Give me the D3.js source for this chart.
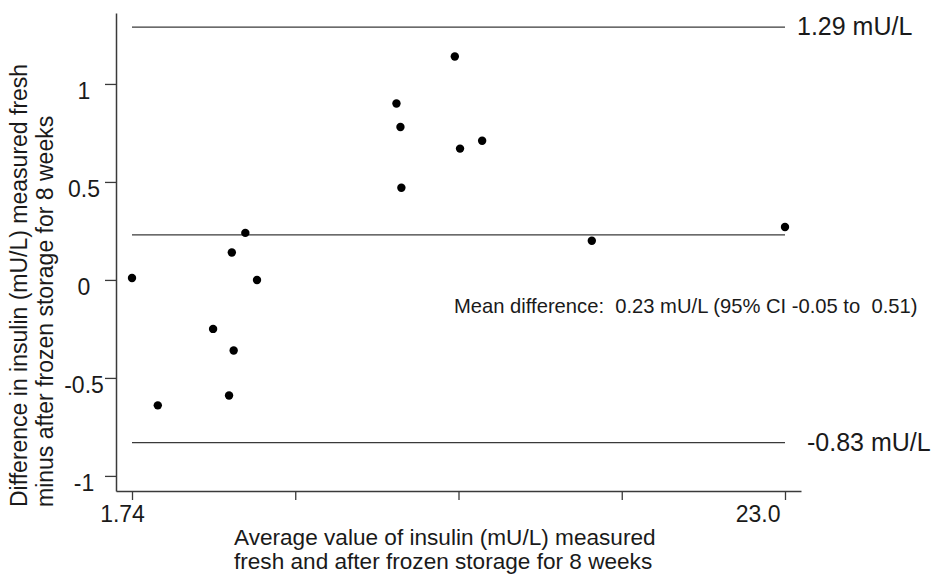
<!DOCTYPE html>
<html>
<head>
<meta charset="utf-8">
<script src="https://cdn.jsdelivr.net/npm/d3@7"></script>
<style>
  html, body { margin: 0; padding: 0; background: #fff; }
  svg { display: block; font-family: "Liberation Sans", Arial, sans-serif; }
  text { white-space: pre; }
</style>
</head>
<body>
<svg id="chart" width="933" height="574"></svg>
<script>
// Data: Bland-Altman style (average vs difference)
const averages    = [1.74, 2.58, 4.38, 4.90, 4.99, 5.05, 5.43, 5.81, 10.35, 10.48, 10.51, 12.25, 12.42, 13.14, 16.71, 23.0];
const differences = [0.01, -0.64, -0.25, -0.59, 0.14, -0.36, 0.24, 0.00, 0.90, 0.78, 0.47, 1.14, 0.67, 0.71, 0.20, 0.27];
const refLines    = [1.29, 0.23, -0.83];
const refLabels   = ["1.29 mU/L", "", "-0.83 mU/L"];
const yTicks      = [-1, -0.5, 0, 0.5, 1];
const yTickLabels = ["-1", "-0.5", "0", "0.5", "1"];
const xTicks      = [1.74, 7.055, 12.37, 17.685, 23.0];
const xTickLabels = ["1.74", "", "", "", "23.0"];
const meanText    = "Mean difference:  0.23 mU/L (95% CI -0.05 to  0.51)";
const yTitle      = ["Difference in insulin (mU/L) measured fresh", "minus after frozen storage for 8 weeks"];
const xTitle      = ["Average value of insulin (mU/L) measured", "fresh and after frozen storage for 8 weeks"];

const svg = d3.select("#chart");
const axisColor = "#3a3a3a";
const textColor = "#1a1a1a";

const x = d3.scaleLinear().domain([1.219, 23.521]).range([116, 801]);
const y = d3.scaleLinear().domain([-1.077, 1.362]).range([491, 13]);

// Y axis
const yAxis = svg.append("g")
  .attr("transform", "translate(116,0)")
  .call(d3.axisLeft(y).tickValues(yTicks).tickSize(11).tickSizeOuter(0)
        .tickFormat((d, i) => yTickLabels[i]));
yAxis.select(".domain").attr("stroke", axisColor).attr("stroke-width", 1.5);
yAxis.selectAll(".tick line").attr("stroke", axisColor).attr("stroke-width", 1.3);
yAxis.selectAll(".tick text")
  .attr("font-size", 23).attr("fill", textColor)
  .attr("text-anchor", "middle").attr("x", -32).attr("dy", "0.62em");

// X axis
const xAxis = svg.append("g")
  .attr("transform", "translate(0,491)")
  .call(d3.axisBottom(x).tickValues(xTicks).tickSize(9).tickSizeOuter(0)
        .tickFormat((d, i) => xTickLabels[i]));
xAxis.select(".domain").attr("stroke", axisColor).attr("stroke-width", 1.5);
xAxis.selectAll(".tick line").attr("stroke", axisColor).attr("stroke-width", 1.3);
xAxis.selectAll(".tick text")
  .attr("font-size", 23).attr("fill", textColor)
  .attr("y", 31).attr("dy", 0)
  .attr("text-anchor", (d, i) => i === xTicks.length - 1 ? "end" : "middle")
  .attr("dx", (d, i) => i === xTicks.length - 1 ? -5 : -10);

// Reference lines
const xMin = d3.min(averages), xMax = d3.max(averages);
svg.append("g").selectAll("line").data(refLines).join("line")
  .attr("x1", x(xMin)).attr("x2", x(xMax))
  .attr("y1", d => y(d)).attr("y2", d => y(d))
  .attr("stroke", axisColor).attr("stroke-width", 1.3);

svg.append("g").selectAll("text").data(refLines).join("text")
  .attr("x", x(xMax))
  .attr("dx", d => d < 0 ? 22 : 12)
  .attr("y", d => y(d) + 8)
  .attr("font-size", 25).attr("fill", textColor)
  .text((d, i) => refLabels[i]);

// Mean difference annotation
svg.append("text")
  .attr("x", 454).attr("y", 313)
  .attr("font-size", 20.2).attr("fill", textColor)
  .text(meanText);

// Points
svg.append("g").selectAll("circle").data(averages).join("circle")
  .attr("cx", d => x(d))
  .attr("cy", (d, i) => y(differences[i]))
  .attr("r", 4.2)
  .attr("fill", "#000");

// Y title
svg.append("g").attr("transform", "translate(0,507) rotate(-90)")
  .selectAll("text").data(yTitle).join("text")
  .attr("x", 0).attr("y", (d, i) => 27 + i * 26)
  .attr("font-size", 23).attr("fill", textColor)
  .text(d => d);

// X title
svg.append("g").selectAll("text").data(xTitle).join("text")
  .attr("x", 234).attr("y", (d, i) => 545 + i * 24)
  .attr("font-size", 22.6).attr("fill", textColor)
  .text(d => d);
</script>
</body>
</html>
